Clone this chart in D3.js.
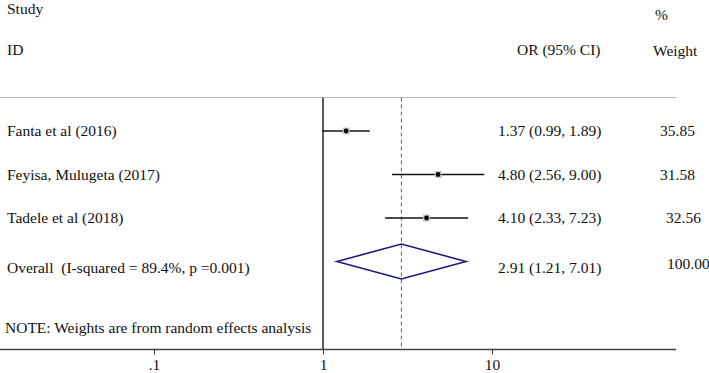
<!DOCTYPE html>
<html><head><meta charset="utf-8">
<script src="https://cdn.jsdelivr.net/npm/d3@7"></script>
<style>
html,body{margin:0;padding:0;background:#fff;}
svg text{font-family:"Liberation Serif","Times New Roman",serif;font-size:15.5px;fill:#111;white-space:pre;}
</style></head>
<body><svg id="c" width="709" height="373" font-family="Liberation Serif, Times New Roman, serif"></svg>
<script>
const studies = ["Fanta et al (2016)", "Feyisa, Mulugeta (2017)", "Tadele et al (2018)"];
const orValues = [1.37, 4.80, 4.10];
const lowerCI = [0.99, 2.56, 2.33];
const upperCI = [1.89, 9.00, 7.23];
const weights = ["35.85", "31.58", "32.56"];
const overallLabel = "Overall  (I-squared = 89.4%, p =0.001)";
const overallOR = 2.91, overallLower = 1.21, overallUpper = 7.01;
const overallWeight = "100.00";
const tickValues = [0.1, 1, 10];
const tickLabels = [".1", "1", "10"];
const note = "NOTE: Weights are from random effects analysis";

const svg = d3.select("#c");
const fmt = d3.format(".2f");
const x = d3.scaleLog().domain([0.1, 10]).range([154, 492]);
const rowY = d3.scalePoint().domain(d3.range(4)).range([131, 261.5]);
const topY = 97.5, axisY = 349.5;

function label(xp, yp, t) {
  return svg.append("text").attr("x", xp).attr("y", yp)
    .attr("font-family", "Liberation Serif, Times New Roman, serif").text(t);
}

// header
label(7, 13.5, "Study");
label(7, 55, "ID");
label(517, 55, "OR (95% CI)");
label(655, 20, "%");
label(653, 56, "Weight");

// top rule
svg.append("line").attr("x1", 0).attr("x2", 676).attr("y1", topY).attr("y2", topY)
  .attr("stroke", "#bbb").attr("stroke-width", 1.2);

// null line
svg.append("line").attr("x1", x(1)).attr("x2", x(1)).attr("y1", topY).attr("y2", axisY)
  .attr("stroke", "#000").attr("stroke-width", 1.3);
// overall dashed line
svg.append("line").attr("x1", x(overallOR)).attr("x2", x(overallOR)).attr("y1", topY).attr("y2", axisY)
  .attr("stroke", "#a83c40").attr("stroke-width", 1).attr("stroke-dasharray", "4,3");

// study rows
studies.forEach((s, i) => {
  const y = rowY(i);
  svg.append("line").attr("x1", x(lowerCI[i])).attr("x2", x(upperCI[i])).attr("y1", y).attr("y2", y)
    .attr("stroke", "#111").attr("stroke-width", 1.6);
  svg.append("rect").attr("x", x(orValues[i]) - 3.5).attr("y", y - 3.5).attr("width", 7).attr("height", 7)
    .attr("fill", "#c8c8c8");
  svg.append("circle").attr("cx", x(orValues[i])).attr("cy", y).attr("r", 2.4).attr("fill", "#000");
  label(7, y + 5, s);
  label(498, y + 5, `${fmt(orValues[i])} (${fmt(lowerCI[i])}, ${fmt(upperCI[i])})`);
});
label(660, rowY(0) + 5, weights[0]);
label(660, rowY(1) + 5, weights[1]);
label(666, rowY(2) + 5, weights[2]);

// overall diamond
const oy = rowY(3);
svg.append("path")
  .attr("d", `M${x(overallLower)},${oy} L${x(overallOR)},${oy - 17.5} L${x(overallUpper)},${oy} L${x(overallOR)},${oy + 17.5} Z`)
  .attr("fill", "none").attr("stroke", "#1a1a80").attr("stroke-width", 1.6);
label(7, oy + 11, overallLabel);
label(498, oy + 11, `${fmt(overallOR)} (${fmt(overallLower)}, ${fmt(overallUpper)})`);
label(667, oy + 7, overallWeight);

// note
label(5, 333, note);

// axis
const axis = d3.axisBottom(x).tickValues(tickValues).tickFormat((d, i) => tickLabels[i]).tickSize(5).tickSizeOuter(0);
const g = svg.append("g").attr("transform", `translate(0,${axisY})`).call(axis);
g.select(".domain").attr("d", `M0,0H676`).attr("stroke", "#444").attr("stroke-width", 1.6);
g.selectAll(".tick line").attr("stroke", "#333");
g.selectAll(".tick text").attr("font-family", "Liberation Serif, Times New Roman, serif").attr("font-size", "15.5px")
  .attr("fill", "#111").attr("dy", "0.8em");
</script></body></html>
